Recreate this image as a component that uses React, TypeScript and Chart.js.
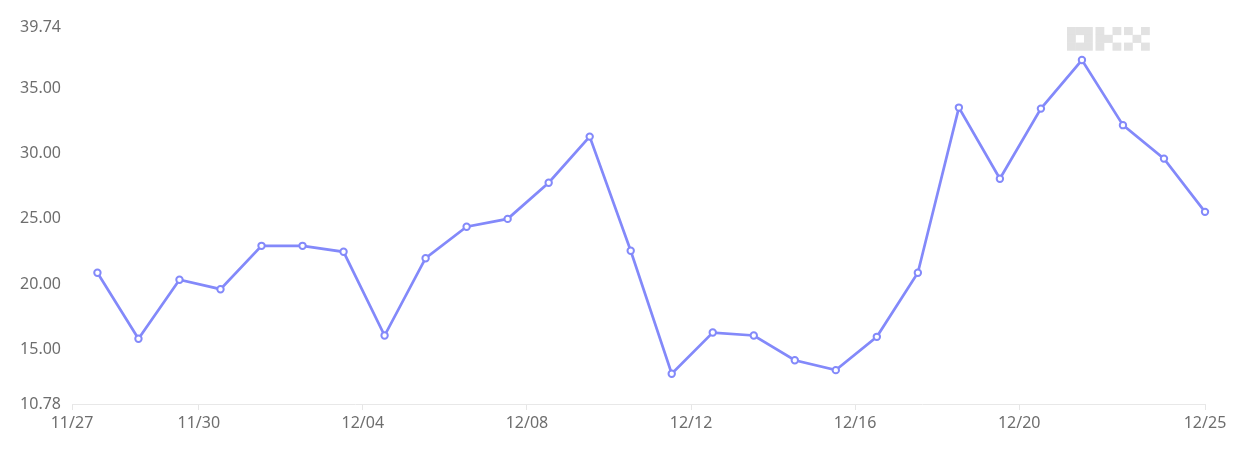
import React, { useEffect, useRef } from "react";
import { Chart, registerables } from "chart.js";

Chart.register(...registerables);

// Daily values (index = day slot from 11/27 to 12/24)
const pointIndex: number[] = [
  0, 1, 2, 3, 4, 5, 6, 7, 8, 9, 10, 11, 12, 13, 14, 15, 16, 17, 18, 19, 20, 21, 22, 23, 24, 25, 26, 27,
];
const seriesValues: number[] = [
  20.86, 15.79, 20.32, 19.6, 22.93, 22.93, 22.47, 16.04, 21.98, 24.4, 25.0, 27.78, 31.32, 22.55,
  13.1, 16.27, 16.04, 14.14, 13.38, 15.94, 20.86, 33.55, 28.08, 33.47, 37.2, 32.2, 29.63, 25.54,
];

// X axis tick labels and their positions on the index scale
const xTickLabels: string[] = ["11/27", "11/30", "12/04", "12/08", "12/12", "12/16", "12/20", "12/25"];
const xTickValues: number[] = [-0.62, 2.47, 6.47, 10.47, 14.47, 18.47, 22.47, 27];
const xMin = -0.62;
const xMax = 27;

// Y axis ticks
const yTickValues: number[] = [10.78, 15, 20, 25, 30, 35, 39.74];
const yMin = 10.78;
const yMax = 39.74;

const LINE_COLOR = "#8389fa";
const TEXT_COLOR = "#6e6e6e";
const FONT_FAMILY = "'Noto Sans', 'Open Sans', sans-serif";

const watermarkPlugin = {
  id: "okxWatermark",
  beforeDatasetsDraw(chart: any) {
    const ctx = chart.ctx as CanvasRenderingContext2D;
    const cw = 8.5;
    const ch = 7.8;
    const startX = chart.width - 177;
    const startY = 27;
    const gap = 3;
    const glyphs: number[][][] = [
      // O
      [[0, 0], [1, 0], [2, 0], [0, 1], [2, 1], [0, 2], [1, 2], [2, 2]],
      // K
      [[0, 0], [0, 1], [0, 2], [1, 1], [2, 0], [2, 2]],
      // X
      [[0, 0], [2, 0], [1, 1], [0, 2], [2, 2]],
    ];
    ctx.save();
    ctx.fillStyle = "#e2e2e2";
    glyphs.forEach((cells, g) => {
      const gx = startX + g * (3 * cw + gap);
      cells.forEach(([cx, cy]) => {
        ctx.fillRect(gx + cx * cw, startY + cy * ch, cw + 0.3, ch + 0.3);
      });
    });
    ctx.restore();
  },
};

export default function App() {
  const canvasRef = useRef<HTMLCanvasElement | null>(null);

  useEffect(() => {
    if (!canvasRef.current) return;
    const chart = new Chart(canvasRef.current, {
      type: "line",
      data: {
        datasets: [
          {
            data: pointIndex.map((x, i) => ({ x, y: seriesValues[i] })),
            borderColor: LINE_COLOR,
            borderWidth: 2.7,
            pointRadius: 3.2,
            pointBorderWidth: 2,
            pointBackgroundColor: "#ffffff",
            pointBorderColor: LINE_COLOR,
            tension: 0,
            fill: false,
            clip: false,
          },
        ],
      },
      options: {
        animation: false,
        responsive: true,
        maintainAspectRatio: false,
        layout: { padding: { top: 27, right: 39, left: 0, bottom: 0 } },
        plugins: {
          legend: { display: false },
          tooltip: { enabled: false },
        },
        scales: {
          x: {
            type: "linear",
            min: xMin,
            max: xMax,
            afterBuildTicks: (scale: any) => {
              scale.ticks = xTickValues.map((v) => ({ value: v }));
            },
            afterFit: (scale: any) => {
              scale.height = 47;
            },
            grid: {
              drawOnChartArea: false,
              drawTicks: true,
              tickLength: 6,
              color: "#e6e6e6",
            },
            border: { display: true, color: "#e8e8e8", width: 1 },
            ticks: {
              autoSkip: false,
              maxRotation: 0,
              padding: 4,
              color: TEXT_COLOR,
              font: { family: FONT_FAMILY, size: 16 },
              callback: (_v: any, i: number) => xTickLabels[i],
            },
          },
          y: {
            type: "linear",
            min: yMin,
            max: yMax,
            afterBuildTicks: (scale: any) => {
              scale.ticks = yTickValues.map((v) => ({ value: v }));
            },
            afterFit: (scale: any) => {
              scale.width = 72;
            },
            grid: { display: false, drawTicks: false },
            border: { display: false },
            ticks: {
              padding: 11,
              color: TEXT_COLOR,
              font: { family: FONT_FAMILY, size: 16 },
              callback: (v: any) => Number(v).toFixed(2),
            },
          },
        },
      },
      plugins: [watermarkPlugin],
    } as any);
    return () => chart.destroy();
  }, []);

  return (
    <div style={{ position: "absolute", left: 0, top: 0, width: 1244, height: 451, background: "#ffffff" }}>
      <canvas ref={canvasRef} />
    </div>
  );
}
